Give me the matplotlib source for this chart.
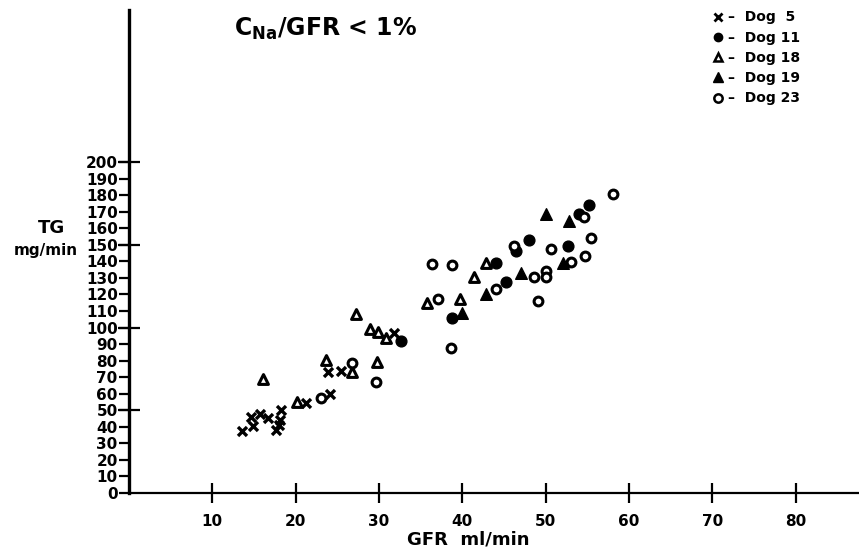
import numpy as np
import matplotlib.pyplot as plt
from matplotlib.lines import Line2D

# Dog 5 (x)
dog5_gfr = [13.6, 14.9, 14.6, 15.7, 16.7, 17.7, 18.0, 18.1, 18.3, 21.3, 24.1, 23.9, 25.4, 31.8]
dog5_tg = [37.6, 40.2, 46.2, 47.9, 45.3, 38.2, 41.0, 44.2, 50.3, 54.6, 60.0, 73.3, 73.5, 96.8]

# Dog 11 (filled circle)
dog11_gfr = [32.6, 38.8, 44.1, 45.3, 46.5, 48.0, 52.7, 54.0, 55.2]
dog11_tg = [91.6, 105.6, 139.2, 127.7, 146.3, 152.7, 149.1, 168.9, 174.1]

# Dog 18 (open triangle)
dog18_gfr = [16.1, 20.2, 23.6, 26.8, 27.2, 28.9, 29.9, 30.9, 29.8, 35.8, 39.7, 41.4, 42.9]
dog18_tg = [68.9, 55.2, 80.6, 72.9, 108.2, 99.0, 97.3, 94.0, 79.1, 115.0, 117.0, 130.5, 138.8]

# Dog 19 (filled triangle)
dog19_gfr = [40.0, 42.9, 47.0, 50.0, 52.1, 52.8]
dog19_tg = [108.9, 120.0, 133.1, 168.9, 139.2, 164.2]

# Dog 23 (open circle)
dog23_gfr = [23.1, 26.8, 29.7, 38.7, 37.1, 36.4, 38.8, 44.1, 48.6, 50.1, 50.1, 49.1,
             46.2, 50.6, 53.1, 54.7, 55.5, 54.6, 58.1]
dog23_tg = [57.4, 78.6, 67.3, 87.5, 117.4, 138.4, 137.8, 123.5, 130.7, 134.1, 130.5, 115.8,
            149.3, 147.3, 139.8, 143.2, 153.9, 166.8, 181.0]

y_ticks = list(range(0, 201, 10))
y_major = [50, 100, 150, 200]
x_ticks = [10, 20, 30, 40, 50, 60, 70, 80]

plt.rcParams['font.family'] = 'DejaVu Sans'
plt.rcParams['font.weight'] = 'bold'

fig = plt.figure(figsize=(8.59, 5.52), dpi=100)
ax = fig.add_axes([0.150, 0.1069, 0.850, 0.875])

ax.scatter(dog5_gfr, dog5_tg, marker='x', s=42, color='black', linewidths=2.4, zorder=3)
ax.scatter(dog11_gfr, dog11_tg, marker='o', s=60, color='black', zorder=3)
ax.scatter(dog18_gfr, dog18_tg, marker='^', s=50, facecolors='white', edgecolors='black',
           linewidths=2.2, zorder=3)
ax.scatter(dog19_gfr, dog19_tg, marker='^', s=70, color='black', zorder=3)
ax.scatter(dog23_gfr, dog23_tg, marker='o', s=40, facecolors='white', edgecolors='black',
           linewidths=2.2, zorder=3)

ax.set_xlim(0, 87.6)
ax.set_ylim(0, 292)

ax.spines['top'].set_visible(False)
ax.spines['right'].set_visible(False)
ax.spines['left'].set_linewidth(2.4)
ax.spines['bottom'].set_linewidth(1.6)

ax.set_yticks(y_ticks)
ax.set_yticklabels([str(v) for v in y_ticks], fontsize=11, fontweight='bold')
ax.set_yticks(y_major, minor=True)
ax.yaxis.remove_overlapping_locs = False
ax.tick_params(axis='y', which='major', direction='out', length=7, width=1.6, pad=1)
ax.tick_params(axis='y', which='minor', direction='inout', length=16, width=1.6)

ax.set_xticks(x_ticks)
ax.set_xticklabels([str(v) for v in x_ticks], fontsize=11, fontweight='bold')
ax.tick_params(axis='x', which='major', direction='inout', length=14, width=1.6, pad=8)

fig.text(0.272, 0.948, r'C$_{\mathbf{Na}}$/GFR < 1%', fontsize=17, fontweight='bold',
         ha='left', va='center')
fig.text(0.060, 0.587, 'TG', fontsize=13, fontweight='bold', ha='center', va='center')
fig.text(0.053, 0.546, 'mg/min', fontsize=11, fontweight='bold', ha='center', va='center')
fig.text(0.545, 0.022, 'GFR  ml/min', fontsize=13, fontweight='bold', ha='center', va='center')

handles = [
    Line2D([], [], marker='x', color='black', linestyle='none', markersize=6, markeredgewidth=2),
    Line2D([], [], marker='o', color='black', linestyle='none', markersize=6),
    Line2D([], [], marker='^', markerfacecolor='white', markeredgecolor='black',
           linestyle='none', markersize=6, markeredgewidth=1.8),
    Line2D([], [], marker='^', color='black', linestyle='none', markersize=7),
    Line2D([], [], marker='o', markerfacecolor='white', markeredgecolor='black',
           linestyle='none', markersize=6, markeredgewidth=1.8),
]
labels = ['–  Dog  5', '–  Dog 11', '–  Dog 18', '–  Dog 19', '–  Dog 23']
ax.legend(handles, labels, loc='upper left', bbox_to_anchor=(0.782, 1.025), frameon=False,
          prop={'size': 10, 'weight': 'bold'}, handlelength=0.8, handletextpad=0.3,
          labelspacing=0.45)

fig.savefig('out.png', dpi=100)
